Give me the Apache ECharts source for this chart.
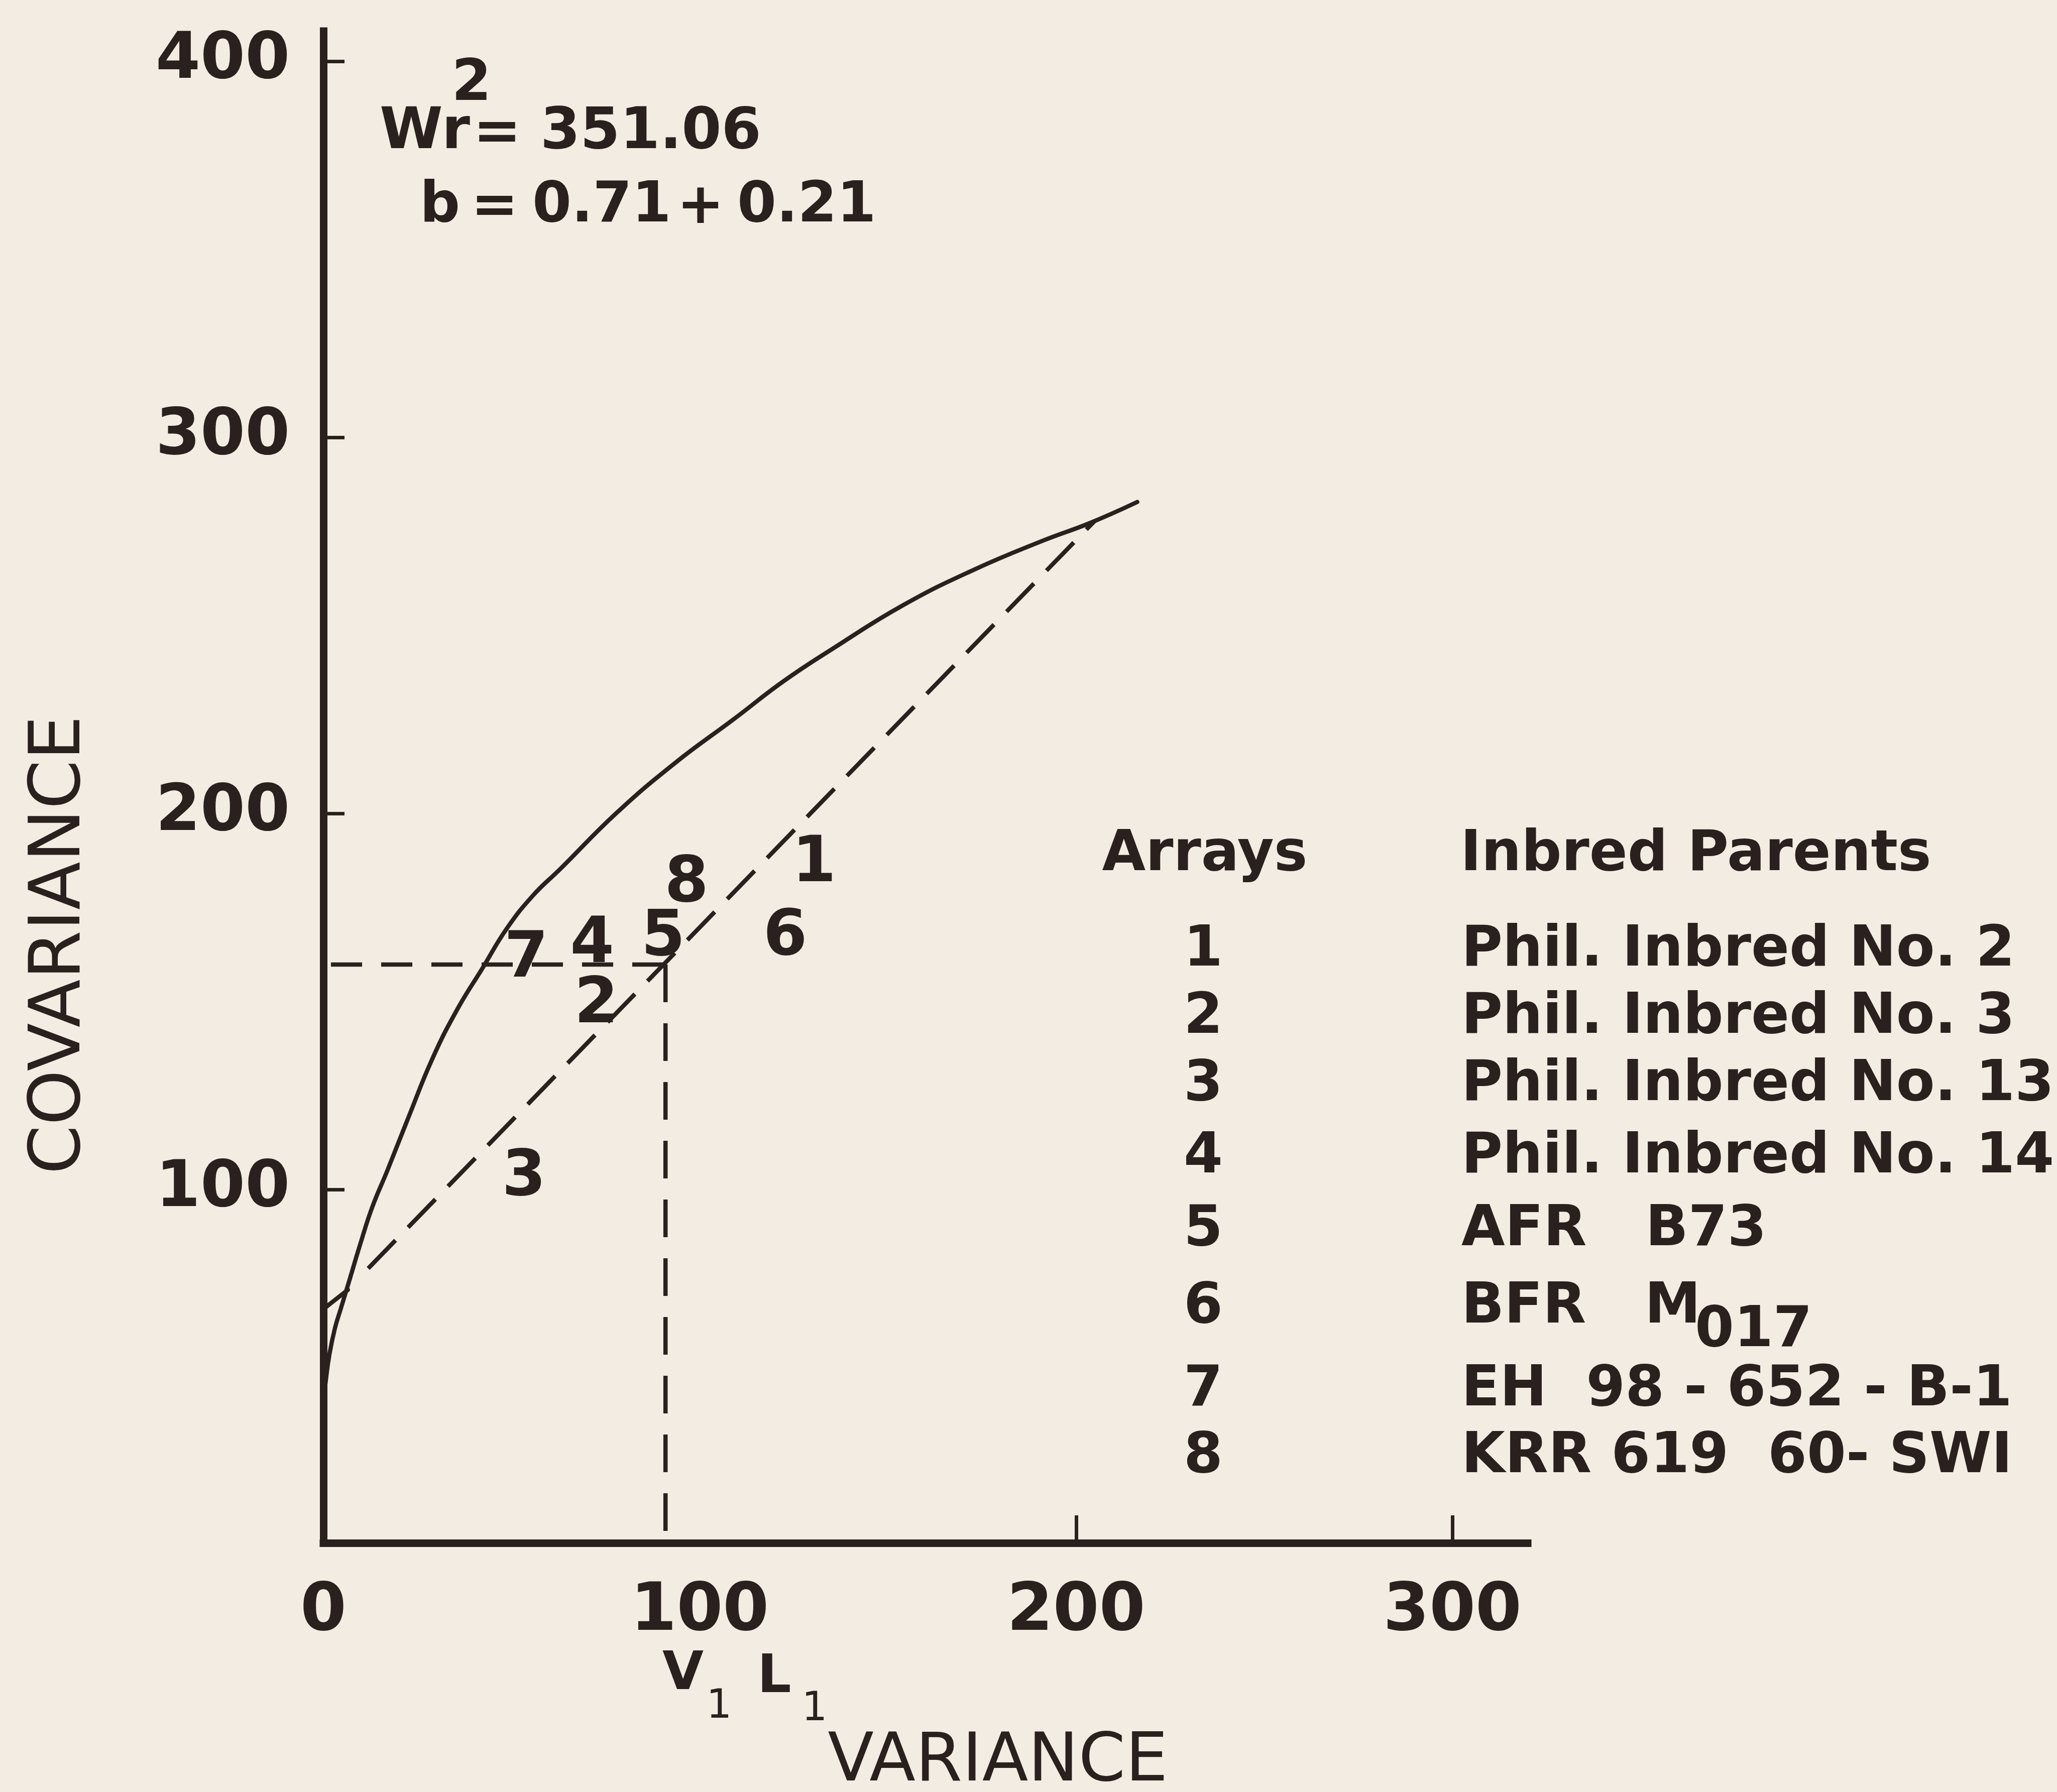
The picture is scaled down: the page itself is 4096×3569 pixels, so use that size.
<!DOCTYPE html>
<html>
<head>
<meta charset="utf-8">
<style>
  html, body { margin: 0; padding: 0; background: #f2ece3; }
  #chart { width: 4096px; height: 3569px; }
</style>
<script src="https://cdn.jsdelivr.net/npm/echarts@6/dist/echarts.min.js"></script>
</head>
<body>
<div id="chart"></div>
<script>
// ---------------- data ----------------
const xTickValues = [200, 300];
const xLabelValues = [0, 100, 200, 300];
const yTickValues = [100, 200, 300, 400];

// limiting parabola (solid curve), traced
const curveV = [0, 0.61, 1.59, 3.06, 4.65, 6.86, 9.80, 12.98, 17.02, 22.53, 29.02, 35.64, 42.13, 48.74, 55.72, 62.82, 77.88, 93.44, 109.11, 122.21, 135.19, 153.93, 172.67, 191.40, 203.65, 216.26];
const curveW = [43.2, 49.0, 56.1, 63.1, 68.4, 75.7, 85.5, 95.3, 105.1, 119.0, 134.9, 148.0, 158.6, 169.4, 178.2, 185.1, 200.1, 213.4, 225.1, 235.1, 243.7, 255.3, 264.7, 272.6, 277.2, 282.8];

// short solid segment from the axis to the curve
const segmentV = [0, 6.5];
const segmentW = [68.2, 73.3];

// regression line (dashed)
const regressionV = [11.9, 204.8];
const regressionW = [79.0, 277.6];

// mean lines (V1L1, W1)
const meanLineHV = [2, 90.9];
const meanLineHW = [159.8, 159.8];
const meanLineVV = [90.9, 90.9];
const meanLineVW = [159.8, 6];

// arrays (points shown as their numbers)
const arrayIds = ['1', '2', '3', '4', '5', '6', '7', '8'];
const arrayV = [130.4, 72.5, 53.3, 71.4, 90.3, 122.7, 53.9, 96.5];
const arrayW = [188.0, 150.4, 104.5, 166.4, 168.3, 168.5, 162.6, 182.6];

// legend table
const legendHeaders = ['Arrays', 'Inbred Parents'];
const parents = ['Phil. Inbred No. 2', 'Phil. Inbred No. 3', 'Phil. Inbred No. 13', 'Phil. Inbred No. 14', 'AFR   B73', 'BFR   M', 'EH  98 - 652 - B-1', 'KRR 619  60- SWI'];
const parentSubs = ['', '', '', '', '', '017', '', ''];

// ---------------- layout & style ----------------
const INK = '#2a201d';
const BG = '#f2ece3';
const FONT = '"DejaVu Sans"';
const legendRowY = [1894, 2028, 2162, 2306, 2451, 2605, 2770, 2903];

function pairs(xs, ys) { return xs.map((x, i) => [x, ys[i]]); }

function txt(text, x, y, size, weight, align, extra) {
  const el = {
    type: 'text', x: x, y: y, silent: true,
    style: {
      text: text, fill: INK,
      font: weight + ' ' + size + 'px ' + FONT,
      align: align, verticalAlign: 'middle',
      textAlign: align, textVerticalAlign: 'middle'
    }
  };
  if (extra) Object.assign(el, extra);
  return el;
}

const graphics = [];
// annotation
graphics.push(txt('Wr', 756, 265, 114, 'bold', 'left'));
graphics.push(txt('2', 939, 169, 114, 'bold', 'center'));
graphics.push(txt('=', 990, 268, 114, 'bold', 'center'));
graphics.push(txt('351.06', 1076, 265, 114, 'bold', 'left'));
graphics.push(txt('b', 836, 412, 112, 'bold', 'left'));
graphics.push(txt('=', 985, 415, 112, 'bold', 'center'));
graphics.push(txt('0.71', 1060, 412, 112, 'bold', 'left'));
graphics.push(txt('+', 1395, 415, 112, 'bold', 'center'));
graphics.push(txt('0.21', 1468, 412, 112, 'bold', 'left'));
// legend table
graphics.push(txt(legendHeaders[0], 2399, 1704, 112, 'bold', 'center'));
graphics.push(txt(legendHeaders[1], 2908, 1704, 112, 'bold', 'left'));
arrayIds.forEach((id, i) => {
  graphics.push(txt(id, 2396, legendRowY[i], 112, 'bold', 'center'));
  graphics.push(txt(parents[i], 2910, legendRowY[i], 112, 'bold', 'left'));
  if (parentSubs[i]) graphics.push(txt(parentSubs[i], 3375, legendRowY[i] + 47, 112, 'bold', 'left'));
});
// axis titles
graphics.push(txt('COVARIANCE', 122, 1882, 140, 'normal', 'center', { rotation: Math.PI / 2 }));
graphics.push(txt('VARIANCE', 1987, 3511, 134, 'normal', 'center'));
// V1 L1 under the x axis
graphics.push(txt('V', 1319, 3336, 106, 'bold', 'left'));
graphics.push(txt('1', 1432, 3400, 80, 'normal', 'center'));
graphics.push(txt('L', 1508, 3342, 106, 'bold', 'left'));
graphics.push(txt('1', 1622, 3405, 80, 'normal', 'center'));

const lineBase = { type: 'line', showSymbol: false, silent: true, animation: false, clip: false };

const option = {
  backgroundColor: BG,
  animation: false,
  grid: { left: 644, top: 62, width: 2398, height: 3011, containLabel: false },
  xAxis: {
    type: 'value', min: 0, max: 320,
    axisLine: { show: true, onZero: false, lineStyle: { color: INK, width: 15, cap: 'square' } },
    axisTick: { show: true, inside: true, length: 55, customValues: xTickValues, lineStyle: { color: INK, width: 7 } },
    axisLabel: { show: true, customValues: xLabelValues, margin: 73, color: INK, fontSize: 132, fontWeight: 'bold', fontFamily: 'DejaVu Sans' },
    splitLine: { show: false }
  },
  yAxis: {
    type: 'value', min: 6, max: 408,
    axisLine: { show: true, onZero: false, lineStyle: { color: INK, width: 15, cap: 'square' } },
    axisTick: { show: true, inside: true, length: 42, customValues: yTickValues, lineStyle: { color: INK, width: 7 } },
    axisLabel: { show: true, customValues: yTickValues, margin: 334, align: 'left', color: INK, fontSize: 128, fontWeight: 'bold', fontFamily: 'DejaVu Sans' },
    splitLine: { show: false }
  },
  series: [
    Object.assign({}, lineBase, { data: pairs(curveV, curveW), smooth: 0.45, lineStyle: { color: INK, width: 8.5, cap: 'round' } }),
    Object.assign({}, lineBase, { data: pairs(segmentV, segmentW), lineStyle: { color: INK, width: 8.5, cap: 'round' } }),
    Object.assign({}, lineBase, { data: pairs(regressionV, regressionW), lineStyle: { color: INK, width: 8.5, type: [78, 36] } }),
    Object.assign({}, lineBase, { data: pairs(meanLineHV, meanLineHW), lineStyle: { color: INK, width: 8.5, type: [62, 38] } }),
    Object.assign({}, lineBase, { data: pairs(meanLineVV, meanLineVW), lineStyle: { color: INK, width: 8.5, type: [75, 42] } }),
    {
      type: 'scatter', silent: true, animation: false,
      symbol: 'circle', symbolSize: 2,
      itemStyle: { color: 'transparent', opacity: 1 },
      data: arrayV.map((v, i) => ({ value: [v, arrayW[i]], name: arrayIds[i] })),
      label: { show: true, position: 'inside', offset: [0, 12], formatter: '{b}', color: INK, opacity: 1, fontSize: 126, fontWeight: 'bold', fontFamily: 'DejaVu Sans' }
    }
  ],
  graphic: { elements: graphics }
};

const chart = echarts.init(document.getElementById('chart'), null, { renderer: 'canvas' });
chart.setOption(option);
</script>
</body>
</html>
